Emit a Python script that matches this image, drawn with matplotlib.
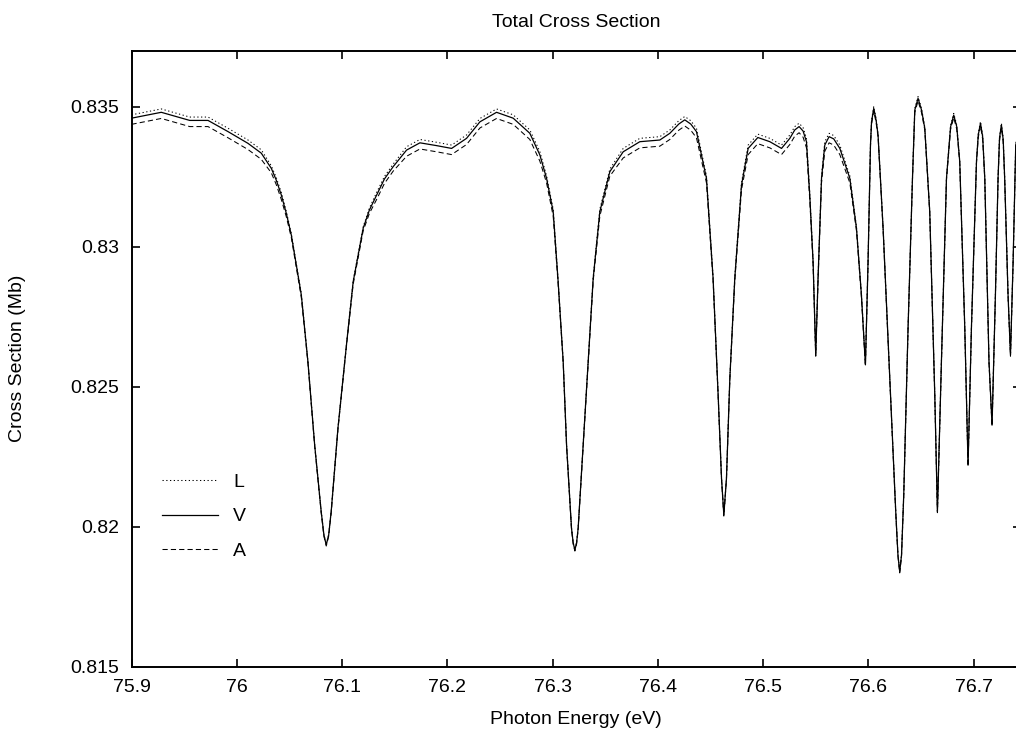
import matplotlib
matplotlib.use("Agg")
import matplotlib.pyplot as plt
import numpy as np

# Photon energy grid (eV)
energy = [
    75.9000, 75.9283, 75.9553, 75.9727, 75.9917, 76.0107, 76.0233, 76.0328, 76.0375, 76.0423,
    76.0470, 76.0518, 76.0613, 76.0676, 76.0740, 76.0802, 76.0828, 76.0850, 76.0873, 76.0897,
    76.0961, 76.1042, 76.1106, 76.1201, 76.1260, 76.1329, 76.1403, 76.1486, 76.1613, 76.1740,
    76.1898, 76.2041, 76.2183, 76.2310, 76.2468, 76.2626, 76.2784, 76.2879, 76.2943, 76.3006,
    76.3053, 76.3101, 76.3133, 76.3180, 76.3196, 76.3212, 76.3228, 76.3243, 76.3291, 76.3338,
    76.3386, 76.3449, 76.3544, 76.3671, 76.3829, 76.4019, 76.4114, 76.4199, 76.4256, 76.4313,
    76.4367, 76.4462, 76.4525, 76.4573, 76.4605, 76.4627, 76.4652, 76.4684, 76.4731, 76.4795,
    76.4858, 76.4950, 76.5064, 76.5175, 76.5254, 76.5301, 76.5342, 76.5380, 76.5412, 76.5443,
    76.5475, 76.5500, 76.5522, 76.5555, 76.5586, 76.5627, 76.5671, 76.5729, 76.5824, 76.5887,
    76.5934, 76.5972, 76.5997, 76.6020, 76.6030, 76.6051, 76.6073, 76.6092, 76.6140, 76.6203,
    76.6260, 76.6281, 76.6298, 76.6315, 76.6336, 76.6377, 76.6419, 76.6441, 76.6472, 76.6505,
    76.6536, 76.6583, 76.6631, 76.6656, 76.6694, 76.6742, 76.6781, 76.6811, 76.6840, 76.6868,
    76.6916, 76.6947, 76.6979, 76.7027, 76.7044, 76.7065, 76.7086, 76.7106, 76.7146, 76.7175,
    76.7207, 76.7232, 76.7246, 76.7264, 76.7281, 76.7295, 76.7327, 76.7350, 76.7375, 76.7400,
    76.7450,
]

# Velocity-gauge total cross section (Mb)
sigma_v = [
    0.83459, 0.83480, 0.83451, 0.83451, 0.83411, 0.83369, 0.83334, 0.83280, 0.83238, 0.83185,
    0.83120, 0.83042, 0.82828, 0.82589, 0.82292, 0.82054, 0.81970, 0.81935, 0.81970, 0.82054,
    0.82351, 0.82649, 0.82875, 0.83066, 0.83131, 0.83185, 0.83242, 0.83286, 0.83345, 0.83371,
    0.83361, 0.83351, 0.83387, 0.83446, 0.83480, 0.83459, 0.83405, 0.83328, 0.83244, 0.83125,
    0.82875, 0.82589, 0.82292, 0.81994, 0.81942, 0.81917, 0.81942, 0.81994, 0.82292, 0.82589,
    0.82887, 0.83125, 0.83268, 0.83339, 0.83375, 0.83381, 0.83405, 0.83438, 0.83453, 0.83438,
    0.83411, 0.83244, 0.82887, 0.82470, 0.82173, 0.82042, 0.82173, 0.82530, 0.82887, 0.83220,
    0.83351, 0.83390, 0.83375, 0.83351, 0.83387, 0.83417, 0.83429, 0.83413, 0.83375, 0.83185,
    0.82946, 0.82613, 0.82887, 0.83244, 0.83363, 0.83393, 0.83385, 0.83351, 0.83244, 0.83066,
    0.82828, 0.82578, 0.82946, 0.83363, 0.83445, 0.83494, 0.83453, 0.83399, 0.83066, 0.82530,
    0.82054, 0.81899, 0.81839, 0.81899, 0.82113, 0.82709, 0.83244, 0.83488, 0.83530, 0.83488,
    0.83423, 0.83125, 0.82470, 0.82054, 0.82589, 0.83244, 0.83428, 0.83470, 0.83428, 0.83304,
    0.82709, 0.82220, 0.82709, 0.83304, 0.83399, 0.83441, 0.83392, 0.83244, 0.82589, 0.82363,
    0.82828, 0.83244, 0.83388, 0.83435, 0.83381, 0.83244, 0.82828, 0.82613, 0.82946, 0.83363,
    0.83440,
]

# Length gauge relative to velocity gauge (units of 1e-5 Mb)
shift_l = [
    12, 12, 12, 12, 12, 12, 12, 9, 9, 9,
    7, 5, 5, 2, 2, 2, 2, 2, 2, 2,
    2, 2, 5, 5, 7, 9, 9, 9, 12, 12,
    12, 12, 12, 12, 12, 12, 12, 12, 9, 9,
    5, 2, 2, 2, 2, 2, 2, 2, 2, 2,
    5, 9, 9, 12, 12, 12, 12, 12, 12, 12,
    12, 9, 5, 2, 2, 2, 2, 2, 5, 9,
    12, 12, 12, 12, 12, 12, 12, 12, 12, 9,
    5, 2, 5, 9, 12, 12, 12, 12, 9, 5,
    5, 2, 5, 4, 6, 6, 6, 4, 3, 2,
    2, 2, 2, 2, 2, 2, 3, 6, 6, 6,
    4, 3, 2, 2, 2, 3, 6, 6, 6, 3,
    2, 2, 2, 3, 6, 6, 6, 3, 2, 2,
    2, 3, 6, 6, 6, 3, 2, 2, 2, 4,
    6,
]

# Acceleration gauge relative to velocity gauge (units of 1e-5 Mb)
shift_a = [
    -22, -22, -22, -22, -22, -22, -22, -16, -16, -16,
    -12, -9, -9, -4, -4, -4, -4, -4, -4, -4,
    -4, -4, -9, -9, -12, -16, -16, -16, -22, -22,
    -22, -22, -22, -22, -22, -22, -22, -22, -16, -16,
    -9, -4, -4, -4, -4, -4, -4, -4, -4, -4,
    -9, -16, -16, -22, -22, -22, -22, -22, -22, -22,
    -22, -16, -9, -4, -4, -4, -4, -4, -9, -16,
    -22, -22, -22, -22, -22, -22, -22, -22, -22, -16,
    -9, -4, -9, -16, -22, -22, -22, -22, -16, -9,
    -9, -4, -9, -6, -9, -9, -9, -6, -5, -4,
    -4, -4, -4, -4, -4, -4, -5, -9, -9, -9,
    -6, -5, -4, -4, -4, -5, -9, -9, -9, -5,
    -4, -4, -4, -5, -9, -9, -9, -5, -4, -4,
    -4, -5, -9, -9, -9, -5, -4, -4, -4, -6,
    -9,
]
shift_unit = 1e-5

x_ticks = [75.9, 76.0, 76.1, 76.2, 76.3, 76.4, 76.5, 76.6, 76.7]
x_tick_labels = ["75.9", "76", "76.1", "76.2", "76.3", "76.4", "76.5", "76.6", "76.7"]
y_ticks = [0.815, 0.82, 0.825, 0.83, 0.835]
y_tick_labels = ["0.815", "0.82", "0.825", "0.83", "0.835"]

plt.rcParams["font.family"] = ["Liberation Sans", "DejaVu Sans"]

e = np.array(energy)
v = np.array(sigma_v)
l = v + np.array(shift_l) * shift_unit
a = v + np.array(shift_a) * shift_unit

W, H = 1016, 732
fig = plt.figure(figsize=(W / 100, H / 100), dpi=100)
ax = fig.add_axes([131.5 / W, 1 - 666.7 / H, (1021 - 131.5) / W, (666.7 - 50.7) / H])

ax.plot(e, l, color="black", lw=0.75, linestyle=(0, (1.2, 2.4)), label="L")
ax.plot(e, v, color="black", lw=0.9, linestyle="-", label="V")
ax.plot(e, a, color="black", lw=0.75, linestyle=(0, (5, 3)), label="A")

ax.set_xlim(75.9, 76.745)
ax.set_ylim(0.815, 0.837)
ax.set_xticks(x_ticks)
ax.set_xticklabels(x_tick_labels)
ax.set_yticks(y_ticks)
ax.set_yticklabels(y_tick_labels)

for sp in ax.spines.values():
    sp.set_linewidth(1.4)
ax.tick_params(direction="in", length=5.5, width=1.2, labelsize=14,
               top=True, right=True)
ax.tick_params(axis="x", pad=9)
ax.tick_params(axis="y", pad=9)

fig.text(576 / W, 1 - 27.3 / H, "Total Cross Section", ha="center", va="baseline", fontsize=14)
fig.text(576 / W, 1 - 724 / H, "Photon Energy (eV)", ha="center", va="baseline", fontsize=14)
fig.text(18 / W, 1 - 358.7 / H, "Cross Section (Mb)", ha="center", va="center",
         rotation=90, fontsize=14)

leg = ax.legend(loc="upper left", bbox_to_anchor=(162 / W, 1 - 473 / H),
                bbox_transform=fig.transFigure, frameon=False, fontsize=14,
                handlelength=2.9, handletextpad=0.75, labelspacing=0.88,
                borderpad=0, borderaxespad=0)

fig.savefig("out.png", dpi=100)
